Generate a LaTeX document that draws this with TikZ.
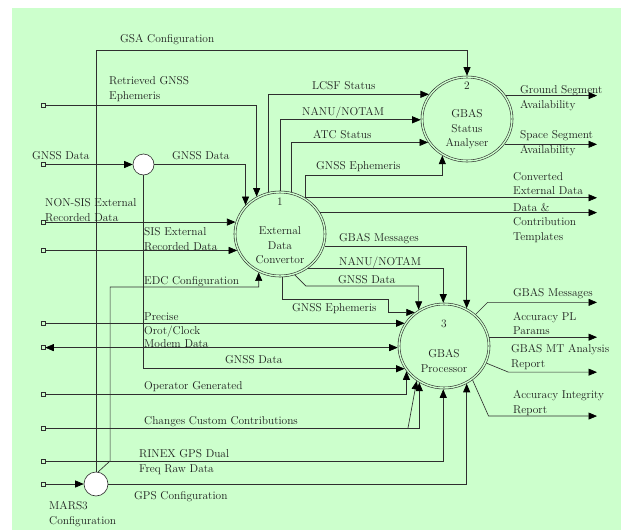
\documentclass[tikz,border=0pt]{standalone}
\usepackage{xcolor}
\usepackage{tikz}
\usetikzlibrary{arrows.meta,shapes.geometric}
\definecolor{bggreen}{HTML}{CCFFCC}
\definecolor{ink}{HTML}{2E2E2E}
\definecolor{txt}{HTML}{1E1E1E}

\begin{document}
\begin{tikzpicture}[x=1pt,y=-1pt,proc/.style={ellipse,draw=ink,double=bggreen,double distance=1.4pt,line width=0.6pt,minimum width=90pt,minimum height=84pt,inner sep=0pt,outer sep=1.3pt},ptxt/.style={align=center,text=txt,inner sep=0pt,font=\fontsize{11.4}{14.5}\selectfont},lbl/.style={anchor=north west,align=left,text=txt,inner sep=0pt,font=\fontsize{11.4}{14.5}\selectfont},src/.style={draw=ink,fill=bggreen,inner sep=0pt,minimum size=4pt,line width=0.5pt},blob/.style={circle,draw=ink,fill=white,inner sep=0pt,line width=0.6pt},arr/.style={draw=ink,line width=0.65pt,-{Triangle[length=8.5pt,width=7pt,color=black]}},arr2/.style={draw=ink,line width=0.65pt,{Triangle[length=8.5pt,width=7pt,color=black]}-{Triangle[length=8.5pt,width=7pt,color=black]}}]
\useasboundingbox (0,0) rectangle (621,530);
\fill[bggreen] (12,8) rectangle (621,530);
\node[proc] (n1) at (280,234) {};
\node[proc] (n2) at (467,119) {};
\node[proc] (n3) at (444,346) {};
\node[ptxt] (n1num) at ([yshift=32pt]n1.center) {1};
\node[ptxt] (n1txt) at ([yshift=-11.5pt]n1.center) {External\\Data\\Convertor};
\node[ptxt] (n2num) at ([yshift=33pt]n2.center) {2};
\node[ptxt] (n2txt) at ([yshift=-10.5pt]n2.center) {GBAS\\Status\\Analyser};
\node[ptxt] (n3num) at ([yshift=22pt]n3.center) {3};
\node[ptxt] (n3txt) at ([yshift=-15pt]n3.center) {GBAS\\Processor};
\node[blob,minimum size=21pt] (c1) at (143.5,164.5) {};
\node[blob,minimum size=24pt] (c2) at (96,484) {};
\node[src] (sRet) at (43,105) {};
\node[src] (sGnss) at (43,164.5) {};
\node[src] (sNon) at (n1.165 -| 43,0) {};
\node[src] (sSis) at (n1.201 -| 43,0) {};
\node[src] (sPre) at (n3.150 -| 43,0) {};
\node[src] (sMod) at (n3.182 -| 43,0) {};
\node[src] (sOp) at (43,394) {};
\node[src] (sCh) at (43,428) {};
\node[src] (sRin) at (43,461) {};
\node[src] (sMars) at (c2.west -| 43,0) {};
\coordinate (oR) at (597,0);
\draw[arr] (sRet.east) -| (n1.122);
\draw[arr] (sGnss.east) -- (c1.west);
\draw[arr] (c1.east) -| (n1.140);
\draw[arr] (c1.south) |- (n3.210);
\draw[arr] (sNon.east) -- (n1.165);\draw[arr] (sSis.east) -- (n1.201);
\draw[arr] (sMars.east) -- (c2.west);
\draw[arr] (c2.north) |- (n2.north |- 0,50) -- (n2.north);
\draw[arr] (c2.80) -- ++(12,-11) |- (n1.241 |- 0,287) -- (n1.241);
\draw[arr] (c2.east) -| (n3.301);
\draw[arr] (sPre.east) -- (n3.150);
\draw[arr2] (sMod.east) -- (n3.182);
\draw[arr] (sOp.east) -| (n3.214);
\draw[arr] (sCh.east) -| (n3.236);
\draw[arr] (sCh.east -| 408,0) -- (n3.232);
\draw[arr] (sRin.east) -| (n3.269);
\draw[arr] (n1.106) |- (n2.147);\draw[arr] (n1.89) |- (n2.181);\draw[arr] (n1.75) |- (n2.211);
\draw[arr] (n1.55) |- (n2.236 |- 0,175) -- (n2.236);
\draw[arr] (n1.55) -- (n1.55 -| oR);\draw[arr] (n1.28) -- (n1.28 -| oR);
\draw[arr] (n1.345) -| (n3.59);
\draw[arr] (n1.309) -| (n3.91);
\draw[arr] (n1.290) -- ++(11,11) -| (n3.125);
\draw[arr] (n1.273) |- (388,299) |- (n3.131);
\draw[arr] (n2.31) -- (n2.31 -| oR);\draw[arr] (n2.326) -- (n2.326 -| oR);
\draw[arr] (n3.45) -- ++(12,-12) coordinate (k1) -- (k1 -| oR);
\draw[arr] (n3.11) -- (n3.11 -| oR);
\draw[arr] (n3.338) -- ++(22,9) coordinate (k2) -- (k2 -| oR);
\draw[arr] (n3.310) -- ++(16,36) coordinate (k3) -- (k3 -| oR);
\node[lbl] (lGsa) at (120,34.5) {GSA Configuration};
\node[lbl] (lRet) at (109,76.5) {Retrieved GNSS\\Ephemeris};
\node[lbl] (lGnssIn) at (32,151.5) {GNSS Data};
\node[lbl] (lGnssC) at (172,151.5) {GNSS Data};
\node[lbl] (lNon) at (45,198.5) {NON-SIS External\\Recorded Data};
\node[lbl] (lSis) at (144,227.5) {SIS External\\Recorded Data};
\node[lbl] (lEdc) at (144,276.5) {EDC Configuration};
\node[lbl,font=\fontsize{11.4}{13.3}\selectfont] (lPre) at (144,313) {Precise\\Orot/Clock\\Modem Data};
\node[lbl] (lGnssP) at (225,355.5) {GNSS Data};
\node[lbl] (lOp) at (144,381.5) {Operator Generated};
\node[lbl] (lCh) at (144,416.5) {Changes Custom Contributions};
\node[lbl] (lRin) at (139,449.5) {RINEX GPS Dual\\Freq Raw Data};
\node[lbl] (lGps) at (134,491.5) {GPS Configuration};
\node[lbl] (lMars) at (49,501.5) {MARS3\\Configuration};
\node[lbl] (lLcsf) at (312,81.5) {LCSF Status};
\node[lbl] (lNanu2) at (302,107) {NANU/NOTAM};
\node[lbl] (lAtc) at (313,130) {ATC Status};
\node[lbl] (lEph2) at (316,161.5) {GNSS Ephemeris};
\node[lbl] (lConv) at (513,172) {Converted\\External Data};
\node[lbl] (lTpl) at (513,203) {Data \&\\Contribution\\Templates};
\node[lbl] (lMsg1) at (339,233) {GBAS Messages};
\node[lbl] (lNanu3) at (339,256.5) {NANU/NOTAM};
\node[lbl] (lGnss3) at (338,275.5) {GNSS Data};
\node[lbl] (lEph3) at (292,303.5) {GNSS Ephemeris};
\node[lbl] (lGround) at (520,85.5) {Ground Segment\\Availability};
\node[lbl] (lSpace) at (520,130.5) {Space Segment\\Availability};
\node[lbl] (lMsg3) at (513,288.5) {GBAS Messages};
\node[lbl] (lPl) at (513,312) {Accuracy PL\\Params};
\node[lbl] (lMt) at (511,344.5) {GBAS MT Analysis\\Report};
\node[lbl] (lInt) at (513,390.5) {Accuracy Integrity\\Report};
\end{tikzpicture}
\end{document}
